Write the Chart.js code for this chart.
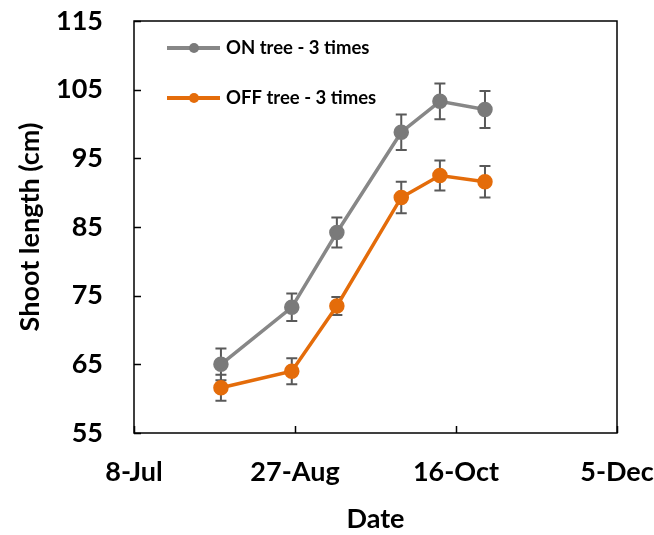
<!DOCTYPE html>
<html>
<head>
<meta charset="utf-8">
<script src="https://cdn.jsdelivr.net/npm/chart.js@4/dist/chart.umd.min.js"></script>
<style>
  html, body { margin: 0; padding: 0; background: #fff; }
  #wrap { width: 654px; height: 535px; }
</style>
</head>
<body>
<div id="wrap"><canvas id="chart"></canvas></div>
<script>
// sampling dates (d-Mon) and mean shoot length with error
const sampleDates = ['4-Aug', '26-Aug', '9-Sep', '29-Sep', '11-Oct', '25-Oct'];
const onTree = [65.0, 73.3, 84.2, 98.8, 103.3, 102.1];
const onTreeErr = [2.3, 2.0, 2.2, 2.6, 2.6, 2.7];
const offTree = [61.6, 64.0, 73.5, 89.3, 92.5, 91.6];
const offTreeErr = [1.9, 1.9, 1.3, 2.3, 2.2, 2.3];
const seriesLabels = ['ON tree - 3 times', 'OFF tree - 3 times'];
const xTickLabels = ['8-Jul', '27-Aug', '16-Oct', '5-Dec'];
const yTicks = [55, 65, 75, 85, 95, 105, 115];

const FONT = 'Lato, "Open Sans", sans-serif';
const monthDays = { Jan: 31, Feb: 28, Mar: 31, Apr: 30, May: 31, Jun: 30, Jul: 31, Aug: 31, Sep: 30, Oct: 31, Nov: 30, Dec: 31 };

// "8-Jul" -> day of year
function dayOfYear(s) {
    const [d, m] = s.split('-');
    let n = 0;
    for (const k of Object.keys(monthDays)) {
        if (k === m) break;
        n += monthDays[k];
    }
    return n + parseInt(d, 10);
}

const xTickDays = xTickLabels.map(dayOfYear);
const toPoints = (vals, errs) => vals.map((v, i) => ({ x: dayOfYear(sampleDates[i]), y: v, err: errs[i] }));

// error bars, drawn behind the markers
const errorBars = {
    id: 'errorBars',
    beforeDatasetsDraw(chart) {
        const ctx = chart.ctx;
        const x = chart.scales.x, y = chart.scales.y;
        ctx.save();
        ctx.strokeStyle = '#595959';
        ctx.lineWidth = 2;
        chart.data.datasets.forEach(ds => {
            ds.data.forEach(p => {
                const px = x.getPixelForValue(p.x);
                const top = y.getPixelForValue(p.y + p.err);
                const bot = y.getPixelForValue(p.y - p.err);
                ctx.beginPath();
                ctx.moveTo(px, top); ctx.lineTo(px, bot);
                ctx.moveTo(px - 5.5, top); ctx.lineTo(px + 5.5, top);
                ctx.moveTo(px - 5.5, bot); ctx.lineTo(px + 5.5, bot);
                ctx.stroke();
            });
        });
        ctx.restore();
    }
};

// box around the plot with inward tick marks
const frame = {
    id: 'frame',
    afterDraw(chart) {
        const ctx = chart.ctx;
        const a = chart.chartArea;
        const x = chart.scales.x, y = chart.scales.y;
        ctx.save();
        ctx.strokeStyle = '#000';
        ctx.lineWidth = 1.5;
        ctx.strokeRect(a.left, a.top, a.right - a.left, a.bottom - a.top);
        ctx.beginPath();
        yTicks.forEach(v => {
            const py = Math.round(y.getPixelForValue(v)) + 0.5;
            ctx.moveTo(a.left, py); ctx.lineTo(a.left + 7, py);
        });
        xTickDays.forEach(v => {
            const px = Math.round(x.getPixelForValue(v)) + 0.5;
            ctx.moveTo(px, a.bottom); ctx.lineTo(px, a.bottom - 7);
        });
        ctx.stroke();
        ctx.restore();
    }
};

// legend sitting inside the plot, top left
const insideLegend = {
    id: 'insideLegend',
    afterDraw(chart) {
        const ctx = chart.ctx;
        const rows = [48, 98];
        ctx.save();
        chart.data.datasets.forEach((ds, i) => {
            const yy = rows[i];
            ctx.strokeStyle = ds.borderColor;
            ctx.lineWidth = 4;
            ctx.beginPath();
            ctx.moveTo(167, yy); ctx.lineTo(220, yy);
            ctx.stroke();
            ctx.fillStyle = ds.pointBackgroundColor;
            ctx.beginPath();
            ctx.arc(194, yy, 5, 0, Math.PI * 2);
            ctx.fill();
            ctx.fillStyle = '#000';
            ctx.font = 'bold 18.5px ' + FONT;
            ctx.textBaseline = 'middle';
            ctx.textAlign = 'left';
            ctx.fillText(ds.label, 226, yy);
        });
        ctx.restore();
    }
};

new Chart(document.getElementById('chart'), {
    type: 'line',
    data: {
        datasets: [{
            label: seriesLabels[0],
            data: toPoints(onTree, onTreeErr),
            borderColor: '#878787',
            backgroundColor: '#7a7a7a',
            pointBackgroundColor: '#7a7a7a',
            pointBorderColor: '#7a7a7a',
            borderWidth: 3.5,
            pointRadius: 6,
            tension: 0
        }, {
            label: seriesLabels[1],
            data: toPoints(offTree, offTreeErr),
            borderColor: '#E46C0A',
            backgroundColor: '#E46C0A',
            pointBackgroundColor: '#E46C0A',
            pointBorderColor: '#E46C0A',
            borderWidth: 3.5,
            pointRadius: 6,
            tension: 0
        }]
    },
    plugins: [errorBars, frame, insideLegend],
    options: {
        responsive: true,
        maintainAspectRatio: false,
        animation: false,
        layout: { padding: { left: 0, right: 37, top: 21, bottom: 0 } },
        plugins: {
            legend: { display: false },
            tooltip: { enabled: false }
        },
        scales: {
            x: {
                type: 'linear',
                min: xTickDays[0],
                max: xTickDays[xTickDays.length - 1],
                afterBuildTicks: s => { s.ticks = xTickDays.map(v => ({ value: v })); },
                afterFit: s => { s.height = 102; s.paddingLeft = 0; s.paddingRight = 0; },
                grid: { display: false, drawTicks: false },
                border: { display: false },
                ticks: {
                    padding: 23,
                    color: '#000',
                    font: { family: FONT, size: 27, weight: 'bold' },
                    callback: v => xTickLabels[xTickDays.indexOf(v)]
                },
                title: {
                    display: true,
                    text: 'Date',
                    color: '#000',
                    padding: { top: 0, bottom: 0 },
                    font: { family: FONT, size: 27, weight: 'bold' }
                }
            },
            y: {
                min: yTicks[0],
                max: yTicks[yTicks.length - 1],
                afterBuildTicks: s => { s.ticks = yTicks.map(v => ({ value: v })); },
                afterFit: s => { s.width = 134; s.paddingTop = 0; s.paddingBottom = 0; },
                grid: { display: false, drawTicks: false },
                border: { display: false },
                ticks: {
                    padding: 31,
                    color: '#000',
                    font: { family: FONT, size: 27, weight: 'bold' }
                },
                title: {
                    display: true,
                    text: 'Shoot length (cm)',
                    color: '#000',
                    padding: { top: 14, bottom: 0 },
                    font: { family: FONT, size: 27, weight: 'bold' }
                }
            }
        }
    }
});
</script>
</body>
</html>
